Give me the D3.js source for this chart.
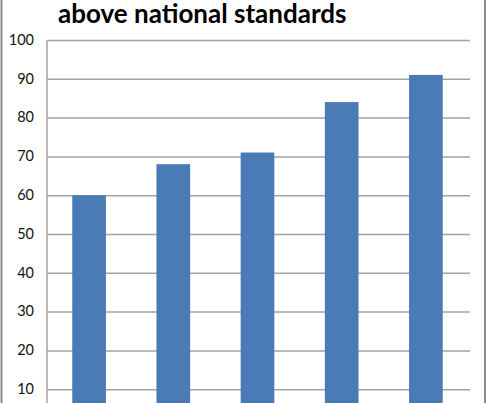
<!DOCTYPE html>
<html>
<head>
<meta charset="utf-8">
<script src="https://cdn.jsdelivr.net/npm/d3@7"></script>
<style>
body{margin:0;background:#fff;}
svg{display:block;}
.title{font-family:Lato,"Open Sans",sans-serif;font-weight:700;font-size:26px;fill:#000;}
.tick text{font-family:Lato,"Liberation Sans",sans-serif;font-size:14.5px;fill:#111;}
</style>
</head>
<body>
<svg id="chart"></svg>
<script>
var categories = ["1","2","3","4","5"];
var values = [60,68,71,84,91];
var tickValues = [10,20,30,40,50,60,70,80,90,100];
var titleText = "above national standards";

var screen = {width:487,height:403}
var plot = {left:47,right:468,top:40,bottom:428}

var svg = d3.select("#chart")
.attr("width",screen.width)
.attr("height",screen.height)

var xScale = d3.scaleBand()
    .domain(categories)
    .range([plot.left,plot.right])
    .paddingInner(0.6)
    .paddingOuter(0.3)

var yScale = d3.scaleLinear()
    .domain([0,100])
    .range([plot.bottom,plot.top])

//gridlines + labels
var yAxis = d3.axisLeft(yScale)
    .tickValues(tickValues)
    .tickSize(-(plot.right+2-plot.left))
    .tickPadding(13)

var axis = svg.append("g")
.attr("transform","translate("+plot.left+",0)")
.call(yAxis)

axis.select(".domain").remove()
axis.selectAll(".tick line")
.attr("stroke","#a3a3a3")
.attr("stroke-width",1.5)
axis.selectAll(".tick text").attr("dy","0.3em")

//bars
svg.append("g")
.selectAll("rect")
.data(values)
.enter()
.append("rect")
.attr("x",function(d,i){ return xScale(categories[i]); })
.attr("y",function(d){ return yScale(d); })
.attr("width",xScale.bandwidth())
.attr("height",function(d){ return yScale(0)-yScale(d); })
.attr("fill","#4a7bb6")

//vertical axis line
svg.append("line")
.attr("x1",plot.left).attr("x2",plot.left)
.attr("y1",yScale(100)).attr("y2",screen.height)
.attr("stroke","#a3a3a3")
.attr("stroke-width",1.5)

//chart border (left/right edges)
svg.append("line")
.attr("x1",1.5).attr("x2",1.5)
.attr("y1",0).attr("y2",screen.height)
.attr("stroke","#8a8a8a").attr("stroke-width",2)
svg.append("line")
.attr("x1",485).attr("x2",485)
.attr("y1",0).attr("y2",screen.height)
.attr("stroke","#8a8a8a").attr("stroke-width",2)

svg.append("text")
.attr("class","title")
.attr("x",58)
.attr("y",22.5)
.text(titleText)
</script>
</body>
</html>
